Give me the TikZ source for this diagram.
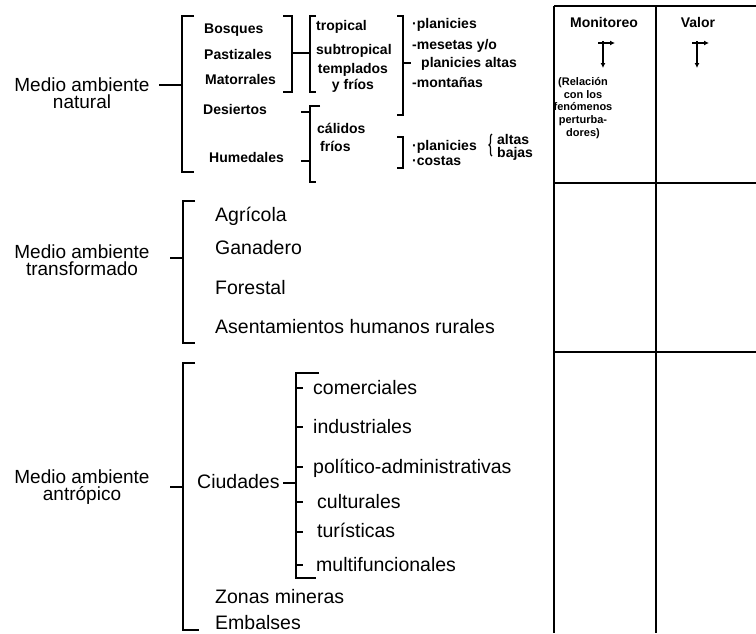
\documentclass[tikz,border=0pt]{standalone}
\usepackage{fontspec}
\setmainfont{Liberation Sans}
\usetikzlibrary{arrows.meta}
\usetikzlibrary{decorations.pathreplacing}

\tikzset{
  bigtxt/.style={font=\fontsize{19.5}{17}\selectfont, inner sep=0pt, anchor=west, text height=13pt, text depth=0pt},
  bigml/.style={font=\fontsize{19}{17.5}\selectfont, inner sep=0pt, align=center},
  smalltxt/.style={font=\bfseries\fontsize{14}{16}\selectfont, inner sep=0pt, anchor=west, text height=10pt, text depth=0pt},
  smallml/.style={font=\bfseries\fontsize{14}{16}\selectfont, inner sep=0pt, align=center},
  celltxt/.style={font=\bfseries\fontsize{11}{12.8}\selectfont, inner sep=0pt, align=center},
  brace/.style={line width=1.7pt},
  grid/.style={line width=1.7pt},
  icon/.style={line width=1.3pt, -{Latex[length=5pt,width=5pt]}}
}

\begin{document}
\begin{tikzpicture}[x=1pt,y=-1pt]
\useasboundingbox (0,0) rectangle (756,633);

% Medio ambiente natural
\node[bigml] (natural) at (82,93) {Medio ambiente\\natural};
\draw[brace] (159,85) -- (182,85);
\draw[brace] (194,16) -- (182,16) -- (182,172) -- (194,172);

\node[smalltxt] (bosques) at (204,28) {Bosques};
\node[smalltxt] (pastizales) at (204,54) {Pastizales};
\node[smalltxt] (matorrales) at (205,79) {Matorrales};
\node[smalltxt] (desiertos) at (203,109) {Desiertos};
\node[smalltxt] (humedales) at (209,157) {Humedales};

% climas de bosques, pastizales y matorrales
\draw[brace] (283,16) -- (292,16) -- (292,92) -- (283,92);
\draw[brace] (292,53) -- (310,53);
\draw[brace] (316,16) -- (310,16) -- (310,92) -- (316,92);
\node[smalltxt] (tropical) at (316,25) {tropical};
\node[smalltxt] (subtropical) at (316,49) {subtropical};
\node[smallml] (templados) at (353,78) {templados\\y fríos};

% relieve
\draw[brace] (397,16) -- (403,16) -- (403,115) -- (397,115);
\draw[brace] (403,63) -- (411,63);
\node[smalltxt] (planicies) at (412,23) {·planicies};
\node[smalltxt] (mesetas) at (412,44) {-mesetas y/o};
\node[smalltxt] (altas) at (421,62) {planicies altas};
\node[smalltxt] (montanas) at (412,82) {-montañas};

% desiertos y humedales
\draw[brace] (301,112) -- (310,112);
\draw[brace] (301,161) -- (310,161);
\draw[brace] (320,106) -- (310,106) -- (310,182) -- (316,182);
\node[smalltxt] (calidos) at (317,128) {cálidos};
\node[smalltxt] (frios) at (320,146) {fríos};

\draw[brace] (397,137) -- (403,137) -- (403,168) -- (397,168);
\node[smalltxt] (planicies2) at (412,145) {·planicies};
\node[smalltxt] (costas) at (412,160) {·costas};
\draw[line width=1.2pt, decorate, decoration={brace, amplitude=3pt}] (492,156) -- (492,134);
\node[smalltxt] (altas2) at (497,139) {altas};
\node[smalltxt] (bajas2) at (497,152) {bajas};

% Medio ambiente transformado
\node[bigml] (transformado) at (82,260) {Medio ambiente\\transformado};
\draw[brace] (170,258) -- (183,258);
\draw[brace] (195,201) -- (183,201) -- (183,343) -- (195,343);
\node[bigtxt] (agricola) at (215,215) {Agrícola};
\node[bigtxt] (ganadero) at (215,248) {Ganadero};
\node[bigtxt] (forestal) at (215,288) {Forestal};
\node[bigtxt] (asentamientos) at (215,327) {Asentamientos humanos rurales};

% Medio ambiente antropico
\node[bigml] (antropico) at (82,487) {Medio ambiente\\antrópico};
\draw[brace] (170,487) -- (183,487);
\draw[brace] (195,363) -- (183,363) -- (183,630) -- (199,630);
\node[bigtxt] (ciudades) at (197,482) {Ciudades};
\draw[brace] (283,483) -- (296,483);
\draw[brace] (319,373) -- (296,373) -- (296,578) -- (316,578);
\foreach \y in {388,427,467,502,532,565}
  \draw[brace] (296,\y) -- (303,\y);
\node[bigtxt] (comerciales) at (313,388) {comerciales};
\node[bigtxt] (industriales) at (313,427) {industriales};
\node[bigtxt] (politico) at (313,467) {político-administrativas};
\node[bigtxt] (culturales) at (317,502) {culturales};
\node[bigtxt] (turisticas) at (317,531) {turísticas};
\node[bigtxt] (multi) at (316,565) {multifuncionales};
\node[bigtxt] (mineras) at (215,597) {Zonas mineras};
\node[bigtxt] (embalses) at (215,623) {Embalses};

% tabla
\draw[grid] (554,6) -- (756,6);
\draw[grid] (554,6) -- (554,633);
\draw[grid] (656,6) -- (656,633);
\draw[grid] (554,183) -- (756,183);
\draw[grid] (554,352) -- (756,352);
\node[celltxt, font=\bfseries\fontsize{14}{15}\selectfont] (monitoreo) at (604,22) {Monitoreo};
\node[celltxt, font=\bfseries\fontsize{14}{15}\selectfont] (valor) at (698,22) {Valor};
\foreach \x in {603,697} {
  \draw[icon] (\x,41) -- (\x,68);
  \draw[icon] (\x-5,43) -- (\x+12,43);
}
\node[celltxt] (relacion) at (583,108) {(Relación\\con los\\fenómenos\\perturba-\\dores)};

\end{tikzpicture}
\end{document}
